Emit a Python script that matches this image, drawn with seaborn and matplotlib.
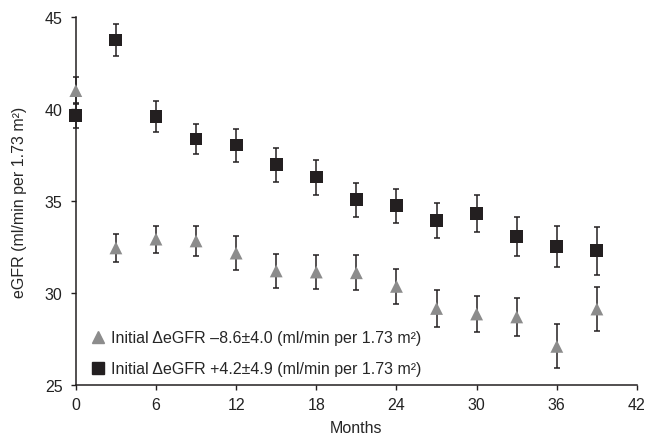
import pandas as pd
import matplotlib
matplotlib.use("Agg")
import matplotlib.pyplot as plt
import seaborn as sns
from matplotlib.lines import Line2D

# values
months = [0, 3, 6, 9, 12, 15, 18, 21, 24, 27, 30, 33, 36, 39]
tri_mean = [41.0, 32.45, 32.93, 32.83, 32.17, 31.2, 31.14, 31.1, 30.36, 29.16, 28.86, 28.7, 27.1, 29.13]
tri_err = [0.75, 0.78, 0.73, 0.83, 0.93, 0.93, 0.93, 0.95, 0.95, 1.03, 1.0, 1.05, 1.2, 1.2]
sq_mean = [39.63, 43.75, 39.6, 38.37, 38.04, 36.97, 36.3, 35.07, 34.75, 33.93, 34.3, 33.06, 32.52, 32.3]
sq_err = [0.68, 0.85, 0.85, 0.83, 0.9, 0.93, 0.95, 0.92, 0.92, 0.95, 1.0, 1.05, 1.1, 1.3]
labels = ["Initial \u0394eGFR \u20138.6\u00b14.0 (ml/min per 1.73 m\u00b2)",
          "Initial \u0394eGFR +4.2\u00b14.9 (ml/min per 1.73 m\u00b2)"]

df = pd.DataFrame({
    "Months": months + months,
    "eGFR": tri_mean + sq_mean,
    "err": tri_err + sq_err,
    "group": ["tri"] * len(months) + ["sq"] * len(months),
})

sns.set_style("ticks")
plt.rcParams["font.family"] = ["Liberation Sans", "DejaVu Sans"]

gray = "#8c8c8c"
dark = "#231f20"
fs = 11.5

fig = plt.figure(figsize=(6.48, 4.35), dpi=100)
ax = fig.add_axes([0.117, 0.1126, 0.866, 0.846])

for g in ["tri", "sq"]:
    d = df[df["group"] == g]
    eb = ax.errorbar(d["Months"], d["eGFR"], yerr=d["err"], fmt="none",
                     ecolor=dark, elinewidth=1.1, capsize=2.5, capthick=1.1, zorder=2)
    for art in eb.lines[1] + eb.lines[2]:
        art.set_clip_on(False)

sns.scatterplot(data=df, x="Months", y="eGFR", hue="group", style="group",
                palette={"tri": gray, "sq": dark}, markers={"tri": "^", "sq": "s"},
                s=85, linewidth=0, legend=False, ax=ax, zorder=3, clip_on=False)

ax.set_xlim(0, 42)
ax.set_ylim(25, 45)
ax.set_xticks(range(0, 43, 6))
ax.set_yticks(range(25, 46, 5))
ax.tick_params(direction="out", length=3.5, width=1, colors=dark, labelsize=fs, pad=5)
ax.tick_params(axis="y", pad=6)
ax.tick_params(labelcolor="#222222")
for s in ["left", "bottom"]:
    ax.spines[s].set_color(dark)
    ax.spines[s].set_linewidth(1.1)
sns.despine(ax=ax)

ax.set_xlabel("Months", fontsize=fs, labelpad=6)
ax.set_ylabel("eGFR (ml/min per 1.73 m\u00b2)", fontsize=fs, labelpad=13)

handles = [Line2D([], [], marker="^", color=gray, linestyle="none", markersize=8),
           Line2D([], [], marker="s", color=dark, linestyle="none", markersize=8)]
ax.legend(handles, labels, loc="lower left", bbox_to_anchor=(-0.005, -0.015), frameon=False,
          fontsize=fs, handletextpad=0.15, labelspacing=1.0, handlelength=1.3)

fig.savefig("out.png", dpi=100)
